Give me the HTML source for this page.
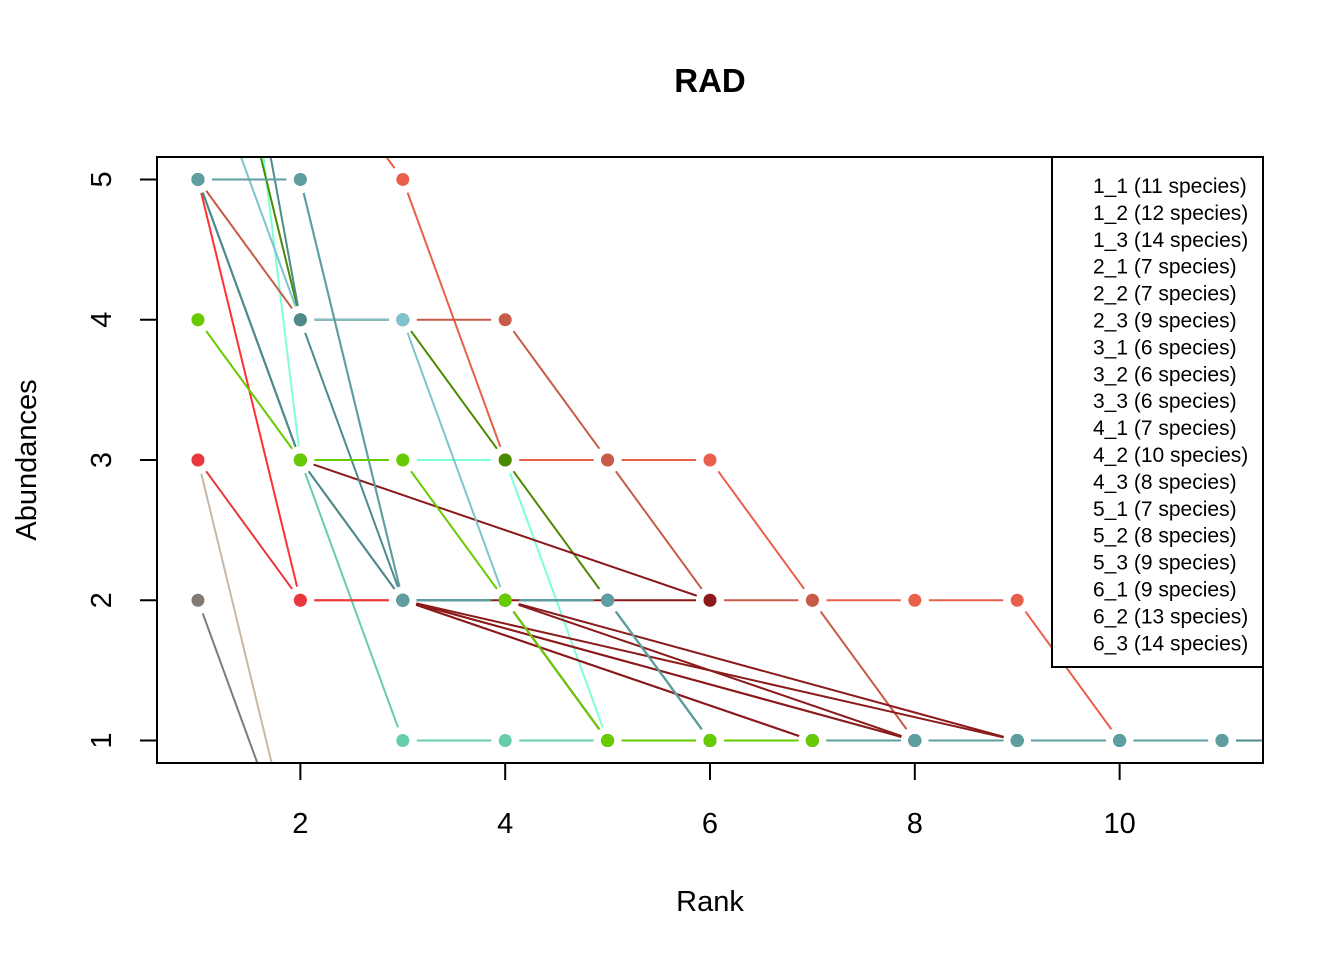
<!DOCTYPE html>
<html><head><meta charset="utf-8"><style>
body{margin:0;background:#fff}
svg text{font-family:"Liberation Sans",Arial,sans-serif}
</style></head><body>
<svg id="chart" width="1344" height="960">
<defs><clipPath id="clip"><rect x="157" y="157" width="1106" height="606"/></clipPath></defs>
<text x="710" y="92" text-anchor="middle" font-size="33" font-weight="bold">RAD</text>
<text x="710" y="911" text-anchor="middle" font-size="29">Rank</text>
<text transform="translate(36,460) rotate(-90)" text-anchor="middle" font-size="29">Abundances</text>
<g id="axes"></g>
<g id="series" clip-path="url(#clip)"></g>
<rect x="157" y="157" width="1106" height="606" fill="none" stroke="#000" stroke-width="2"/>
<g id="legend"></g>
</svg>
<script>
const legendLabels=["1_1 (11 species)","1_2 (12 species)","1_3 (14 species)","2_1 (7 species)","2_2 (7 species)","2_3 (9 species)","3_1 (6 species)","3_2 (6 species)","3_3 (6 species)","4_1 (7 species)","4_2 (10 species)","4_3 (8 species)","5_1 (7 species)","5_2 (8 species)","5_3 (9 species)","6_1 (9 species)","6_2 (13 species)","6_3 (14 species)"];
const xTicks=[2,4,6,8,10];
const yTicks=[1,2,3,4,5];
const seriesColors=["#5F9EA0","#4F8A8B","#5F9EA0","#66CC00","#E8383D","#FF3030","#857A73","#C8B8A8","#F5DEC8","#7FFFD4","#66CDAA","#7EC4CC","#4A8A00","#C85A48","#E8604A","#8B1A1A","#4F8A8B","#4F8A8B"];
const drawOrder=[6,7,8,9,10,14,12,13,15,11,5,4,16,17,2,1,0,3];
const seriesX=[
 [1,2,3,4,5,6,7,8,9,10,11],
 [1,2,3,4,5,6,7,8,9,10,11,12],
 [1,2,3,4,5,6,7,8,9,10,11,12,13,14],
 [1,2,3,4,5,6,7],
 [1,2,3,4,5,6,7],
 [1,2,3,4,5,6,7,8,9],
 [1,2,3,4,5,6],
 [1,2,3,4,5,6],
 [1,2,3,4,5,6],
 [1,2,3,4,5,6,7],
 [1,2,3,4,5,6,7,8,9,10],
 [1,2,3,4,5,6,7,8],
 [1,2,3,4,5,6,7],
 [1,2,3,4,5,6,7,8],
 [1,2,3,4,5,6,7,8,9,10,11,12],
 [2,6,3,7,3,8,3,9,4,8],
 [1,2,3,4,5,6,7,8,9,10,11,12,13],
 [1,2,3,4,5,6,7,8,9,10,11,12,13,14]];
const seriesY=[
 [5,5,2,2,2,1,1,1,1,1,1],
 [5,3,2,2,2,1,1,1,1,1,1,1],
 [5,5,2,2,2,1,1,1,1,1,1,1,1,1],
 [4,3,3,2,1,1,1],
 [3,2,2,2,1,1,1],
 [5,2,2,2,1,1,1,1,1],
 [2,0,0,0,0,0],
 [3,0,0,0,0,0],
 [4,3,2,2,2,2],
 [9,3,3,3,1,1,1],
 [5,3,1,1,1,1,1,1,1,1],
 [6,4,4,2,2,1,1,1],
 [7,4,4,3,2,1,1],
 [5,4,4,4,3,2,2,1],
 [8,6,5,3,3,3,2,2,2,1,1,1],
 [3,2,2,1,2,1,2,1,2,1],
 [5,3,2,2,1,1,1,1,1,1,1,1,1],
 [8,4,2,2,2,1,1,1,1,1,1,1,1,1]];
const NS="http://www.w3.org/2000/svg";
const X0=157,X1=1263,Y0=157,Y1=763,xmin=0.6,xmax=11.4,ymin=0.84,ymax=5.16;
const sx=v=>X0+(v-xmin)/(xmax-xmin)*(X1-X0);
const sy=v=>Y1-(v-ymin)/(ymax-ymin)*(Y1-Y0);
function mk(tag,attrs,parent){const e=document.createElementNS(NS,tag);for(const k in attrs)e.setAttribute(k,attrs[k]);parent.appendChild(e);return e;}
const axes=document.getElementById('axes');
xTicks.forEach(t=>{
 const l=mk('line',{x1:sx(t),x2:sx(t),y1:Y1,y2:Y1+17,stroke:'#000','stroke-width':2},axes);
 
 
 const tx=mk('text',{x:sx(t),y:833,'text-anchor':'middle','font-size':29},axes);tx.textContent=t;
 
 
});
yTicks.forEach(t=>{
 const l=mk('line',{x1:X0-17,x2:X0,y1:sy(t),y2:sy(t),stroke:'#000','stroke-width':2},axes);
 
 
 const tx=mk('text',{transform:`translate(111,${sy(t)}) rotate(-90)`,'text-anchor':'middle','font-size':29},axes);tx.textContent=t;
 
 
});
const sg=document.getElementById('series');
drawOrder.forEach(i=>{
 const ys=seriesY[i];
 const g=mk('g',{},sg);
 
 
 const xs=seriesX[i],c=seriesColors[i];
 for(let j=0;j<ys.length-1;j++){
  const ax=sx(xs[j]),ay=sy(ys[j]),bx=sx(xs[j+1]),by=sy(ys[j+1]);
  const dx=bx-ax,dy=by-ay,L=Math.hypot(dx,dy),gap=14;
  if(L<=2*gap)continue;
  const ux=dx/L,uy=dy/L;
  const s=mk('line',{x1:ax+ux*gap,y1:ay+uy*gap,x2:bx-ux*gap,y2:by-uy*gap,stroke:c,'stroke-width':2},g);
  
  
 }
 ys.forEach((v,j)=>{
  const p=mk('circle',{cx:sx(xs[j]),cy:sy(v),r:6.5,fill:c},g);
  
  
 });
});
const lg=document.getElementById('legend');
const box=mk('rect',{x:1052,y:157,width:211,height:510,fill:'#fff',stroke:'#000','stroke-width':2},lg);


legendLabels.forEach((t,i)=>{
 const tx=mk('text',{x:1093,y:193+i*26.9,'font-size':21},lg);tx.textContent=t;
 
 
});
</script>
</body></html>
